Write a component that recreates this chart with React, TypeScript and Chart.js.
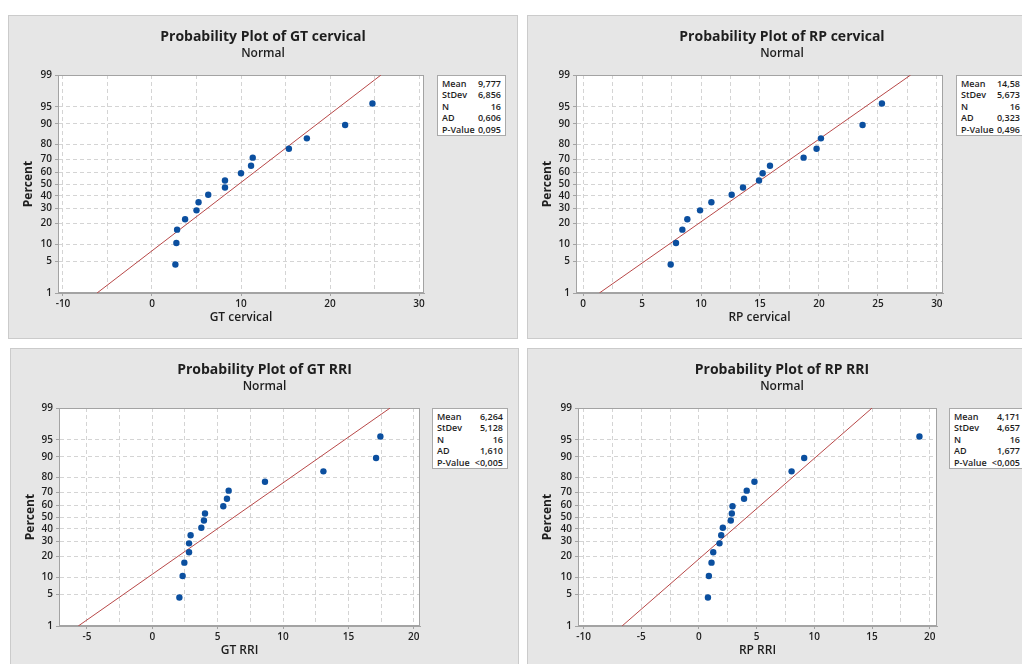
import React, { useEffect, useRef } from 'react';
import { Chart, registerables, Scale } from 'chart.js';

// ---------- data ----------
const PERCENT = [4.3, 10.4, 16.5, 22.6, 28.7, 34.8, 40.9, 47.0, 53.0, 59.1, 65.2, 71.3, 77.4, 83.5, 89.6, 95.7];
const PERCENT_TICKS = [1, 5, 10, 20, 30, 40, 50, 60, 70, 80, 90, 95, 99];
const FIT_PERCENTS = [1, 99];
const STAT_LABELS = ['Mean', 'StDev', 'N', 'AD', 'P-Value'];

const GT_CERVICAL = [2.63, 2.74, 2.82, 3.72, 5.0, 5.23, 6.32, 8.2, 8.2, 10.0, 11.13, 11.32, 15.38, 17.4, 21.7, 24.77];
const GT_CERVICAL_FIT = [9.777, 6.856];
const GT_CERVICAL_STATS = ['9,777', '6,856', '16', '0,606', '0,095'];
const GT_CERVICAL_GRID = [-10, -5, 0, 5, 10, 15, 20, 25, 30];
const GT_CERVICAL_LABELS = [-10, 0, 10, 20, 30];

const RP_CERVICAL = [7.43, 7.88, 8.42, 8.84, 9.92, 10.88, 12.6, 13.56, 14.92, 15.23, 15.85, 18.7, 19.8, 20.17, 23.7, 25.34];
const RP_CERVICAL_FIT = [14.58, 5.673];
const RP_CERVICAL_STATS = ['14,58', '5,673', '16', '0,323', '0,496'];
const RP_CERVICAL_GRID = [0, 2.5, 5, 7.5, 10, 12.5, 15, 17.5, 20, 22.5, 25, 27.5, 30];
const RP_CERVICAL_LABELS = [0, 5, 10, 15, 20, 25, 30];

const GT_RRI = [2.07, 2.32, 2.45, 2.81, 2.81, 2.93, 3.75, 3.95, 4.03, 5.43, 5.71, 5.84, 8.62, 13.09, 17.12, 17.45];
const GT_RRI_FIT = [6.264, 5.128];
const GT_RRI_STATS = ['6,264', '5,128', '16', '1,610', '<0,005'];
const GT_RRI_GRID = [-5, -2.5, 0, 2.5, 5, 7.5, 10, 12.5, 15, 17.5, 20];
const GT_RRI_LABELS = [-5, 0, 5, 10, 15, 20];

const RP_RRI = [0.78, 0.86, 1.09, 1.24, 1.78, 1.93, 2.07, 2.76, 2.85, 2.91, 3.91, 4.14, 4.81, 8.03, 9.12, 19.11];
const RP_RRI_FIT = [4.171, 4.657];
const RP_RRI_STATS = ['4,171', '4,657', '16', '1,677', '<0,005'];
const RP_RRI_GRID = [-10, -7.5, -5, -2.5, 0, 2.5, 5, 7.5, 10, 12.5, 15, 17.5, 20];
const RP_RRI_LABELS = [-10, -5, 0, 5, 10, 15, 20];

// ---------- normal quantile helpers ----------
function probit(p: number): number {
  const a = [-3.969683028665376e1, 2.209460984245205e2, -2.759285104469687e2, 1.38357751867269e2, -3.066479806614716e1, 2.506628277459239];
  const b = [-5.447609879822406e1, 1.615858368580409e2, -1.556989798598866e2, 6.680131188771972e1, -1.328068155288572e1];
  const c = [-7.784894002430293e-3, -3.223964580411365e-1, -2.400758277161838, -2.549732539343734, 4.374664141464968, 2.938163982698783];
  const d = [7.784695709041462e-3, 3.224671290700398e-1, 2.445134137142996, 3.754408661907416];
  const pl = 0.02425;
  if (p < pl) {
    const q = Math.sqrt(-2 * Math.log(p));
    return (((((c[0] * q + c[1]) * q + c[2]) * q + c[3]) * q + c[4]) * q + c[5]) / ((((d[0] * q + d[1]) * q + d[2]) * q + d[3]) * q + 1);
  }
  if (p <= 1 - pl) {
    const q = p - 0.5;
    const r = q * q;
    return ((((((a[0] * r + a[1]) * r + a[2]) * r + a[3]) * r + a[4]) * r + a[5]) * q) / (((((b[0] * r + b[1]) * r + b[2]) * r + b[3]) * r + b[4]) * r + 1);
  }
  const q = Math.sqrt(-2 * Math.log(1 - p));
  return -(((((c[0] * q + c[1]) * q + c[2]) * q + c[3]) * q + c[4]) * q + c[5]) / ((((d[0] * q + d[1]) * q + d[2]) * q + d[3]) * q + 1);
}
function normCdf(z: number): number {
  const t = 1 / (1 + 0.3275911 * Math.abs(z) / Math.SQRT2);
  const y = 1 - (((((1.061405429 * t - 1.453152027) * t + 1.421413741) * t - 0.284496736) * t + 0.254829592) * t) * Math.exp(-(z * z) / 2);
  return z >= 0 ? 0.5 * (1 + y) : 0.5 * (1 - y);
}

// ---------- custom probability (normal) scale ----------
class ProbitScale extends Scale {
  static id = 'probit';
  static defaults = {};
  determineDataLimits() {
    const o: any = this.options;
    this.min = o.min ?? 1;
    this.max = o.max ?? 99;
  }
  buildTicks() {
    const o: any = this.options;
    return (o.tickValues || PERCENT_TICKS).map((v: number) => ({ value: v }));
  }
  configure() {
    super.configure();
    (this as any)._sv = probit(this.min / 100);
    (this as any)._vr = probit(this.max / 100) - (this as any)._sv;
  }
  getLabelForValue(v: number) {
    return String(v);
  }
  getPixelForValue(v: number) {
    const s: any = this;
    return this.getPixelForDecimal((probit(v / 100) - s._sv) / s._vr);
  }
  getValueForPixel(px: number) {
    const s: any = this;
    return 100 * normCdf(s._sv + this.getDecimalForPixel(px) * s._vr);
  }
}

Chart.register(...registerables, ProbitScale as any);

// ---------- styles ----------
const FONT = "'Open Sans', 'DejaVu Sans', sans-serif";
const BLUE = '#0b4f9f';
const RED = '#b84848';
const GRID = '#d4d4d4';
const AXIS = '#a3a3a3';
const TEXT = '#1e1e1e';

type PanelCfg = {
  title: string;
  xTitle: string;
  values: number[];
  fit: number[];
  stats: string[];
  grid: number[];
  labels: number[];
  xMin: number;
  xMax: number;
  left: number;
  top: number;
  width: number;
  height: number;
  plot: [number, number, number, number];
  boxLeft: number;
  boxWidth: number;
};

const PANELS: PanelCfg[] = [
  { title: 'Probability Plot of GT cervical', xTitle: 'GT cervical', values: GT_CERVICAL, fit: GT_CERVICAL_FIT, stats: GT_CERVICAL_STATS, grid: GT_CERVICAL_GRID, labels: GT_CERVICAL_LABELS, xMin: -10.56, xMax: 30.56, left: 8, top: 15, width: 510, height: 324, plot: [49, 59, 415, 277], boxLeft: 428, boxWidth: 69 },
  { title: 'Probability Plot of RP cervical', xTitle: 'RP cervical', values: RP_CERVICAL, fit: RP_CERVICAL_FIT, stats: RP_CERVICAL_STATS, grid: RP_CERVICAL_GRID, labels: RP_CERVICAL_LABELS, xMin: -0.6, xMax: 30.52, left: 527, top: 15, width: 510, height: 324, plot: [48, 59, 415, 277], boxLeft: 428, boxWidth: 69 },
  { title: 'Probability Plot of GT RRI', xTitle: 'GT RRI', values: GT_RRI, fit: GT_RRI_FIT, stats: GT_RRI_STATS, grid: GT_RRI_GRID, labels: GT_RRI_LABELS, xMin: -7.14, xMax: 20.48, left: 10, top: 348, width: 509, height: 324, plot: [48, 59, 409, 277], boxLeft: 421, boxWidth: 76 },
  { title: 'Probability Plot of RP RRI', xTitle: 'RP RRI', values: RP_RRI, fit: RP_RRI_FIT, stats: RP_RRI_STATS, grid: RP_RRI_GRID, labels: RP_RRI_LABELS, xMin: -10.48, xMax: 20.63, left: 527, top: 348, width: 510, height: 324, plot: [50, 59, 409, 277], boxLeft: 421, boxWidth: 76 },
];

const framePlugin = {
  id: 'plotFrame',
  beforeDraw(chart: any) {
    const { ctx, chartArea: a } = chart;
    ctx.save();
    ctx.fillStyle = '#ffffff';
    ctx.fillRect(a.left, a.top, a.right - a.left, a.bottom - a.top);
    ctx.restore();
  },
  beforeDatasetsDraw(chart: any) {
    const { ctx, chartArea: a } = chart;
    ctx.save();
    ctx.strokeStyle = AXIS;
    ctx.lineWidth = 1;
    ctx.strokeRect(a.left + 0.5, a.top + 0.5, a.right - a.left - 1, a.bottom - a.top - 1);
    ctx.restore();
  },
};

function Panel({ cfg }: { cfg: PanelCfg }) {
  const ref = useRef<HTMLCanvasElement>(null);
  const cw = cfg.width - 2;
  const ch = cfg.height - 2;
  const [pl, pt, pr, pb] = cfg.plot;

  useEffect(() => {
    const [mean, sd] = cfg.fit;
    const chart = new Chart(ref.current as HTMLCanvasElement, {
      type: 'scatter',
      data: {
        datasets: [
          {
            label: 'data',
            data: cfg.values.map((x, i) => ({ x, y: PERCENT[i] })),
            pointRadius: 3.2,
            pointHoverRadius: 3.2,
            pointBackgroundColor: BLUE,
            pointBorderColor: BLUE,
            pointBorderWidth: 0,
            order: 0,
          },
          {
            label: 'fit',
            data: FIT_PERCENTS.map((p) => ({ x: mean + sd * probit(p / 100), y: p })),
            showLine: true,
            borderColor: RED,
            borderWidth: 1,
            pointRadius: 0,
            order: 1,
          },
        ],
      } as any,
      options: {
        animation: false,
        responsive: false,
        devicePixelRatio: 1,
        events: [],
        layout: { padding: { left: 0, top: pt, right: cw - pr, bottom: 0 } },
        plugins: { legend: { display: false }, tooltip: { enabled: false }, title: { display: false } },
        scales: {
          x: {
            type: 'linear',
            min: cfg.xMin,
            max: cfg.xMax,
            afterBuildTicks: (s: any) => {
              s.ticks = cfg.grid.map((v) => ({ value: v }));
            },
            afterFit: (s: any) => {
              s.height = ch - pb;
            },
            ticks: {
              autoSkip: false,
              maxRotation: 0,
              padding: 2,
              color: TEXT,
              font: { family: FONT, size: 10, weight: '600' },
              callback: (v: any) => (cfg.labels.includes(Number(v)) ? String(v) : ''),
            },
            grid: {
              color: GRID,
              tickLength: 3,
              tickColor: (c: any) => (c.tick && cfg.labels.includes(c.tick.value) ? AXIS : 'rgba(0,0,0,0)'),
            },
            border: { color: AXIS, width: 1, dash: [4, 3] },
            title: {
              display: true,
              text: cfg.xTitle,
              color: TEXT,
              font: { family: FONT, size: 12, weight: '600' },
              padding: { top: 0, bottom: 12.8 },
            },
          },
          y: {
            type: 'probit',
            min: 1,
            max: 99,
            afterFit: (s: any) => {
              s.width = pl;
            },
            ticks: {
              autoSkip: false,
              padding: 3,
              color: TEXT,
              font: { family: FONT, size: 10, weight: '600' },
              callback: (v: any) => String(v),
            },
            grid: { color: GRID, tickLength: 3, tickColor: AXIS },
            border: { color: AXIS, width: 1, dash: [4, 3] },
            title: {
              display: true,
              text: 'Percent',
              color: TEXT,
              font: { family: FONT, size: 12, weight: 'bold' },
              padding: { top: 12.8, bottom: 0 },
            },
          },
        } as any,
      },
      plugins: [framePlugin],
    });
    return () => chart.destroy();
  }, []);

  return (
    <div
      style={{
        position: 'absolute',
        left: cfg.left,
        top: cfg.top,
        width: cfg.width,
        height: cfg.height,
        boxSizing: 'border-box',
        border: '1px solid #cbcbcb',
        background: '#e6e6e6',
      }}
    >
      <canvas ref={ref} width={cw} height={ch} style={{ position: 'absolute', left: 0, top: 0, width: cw, height: ch }} />
      <div style={{ position: 'absolute', left: 0, width: cw, top: 11, height: 18, lineHeight: '18px', textAlign: 'center', fontFamily: FONT, fontWeight: 700, fontSize: 14, color: TEXT, whiteSpace: 'nowrap' }}>
        {cfg.title}
      </div>
      <div style={{ position: 'absolute', left: 0, width: cw, top: 29, height: 16, lineHeight: '16px', textAlign: 'center', fontFamily: FONT, fontWeight: 600, fontSize: 12, color: TEXT }}>
        Normal
      </div>
      <div
        style={{
          position: 'absolute',
          left: cfg.boxLeft,
          top: pt,
          width: cfg.boxWidth,
          height: 61,
          boxSizing: 'border-box',
          border: '1px solid #a9a9a9',
          background: '#ffffff',
          padding: '2px 4px 0 4px',
          fontFamily: FONT,
          fontSize: 9,
          fontWeight: 600,
          color: TEXT,
        }}
      >
        {STAT_LABELS.map((lab, i) => (
          <div key={lab} style={{ display: 'flex', justifyContent: 'space-between', height: 11.4, lineHeight: '11.4px', whiteSpace: 'nowrap' }}>
            <span>{lab}</span>
            <span>{cfg.stats[i]}</span>
          </div>
        ))}
      </div>
    </div>
  );
}

export default function App() {
  return (
    <div style={{ position: 'absolute', left: 0, top: 0, width: 1022, height: 664, overflow: 'hidden', background: '#ffffff' }}>
      {PANELS.map((p) => (
        <Panel key={p.title} cfg={p} />
      ))}
    </div>
  );
}
